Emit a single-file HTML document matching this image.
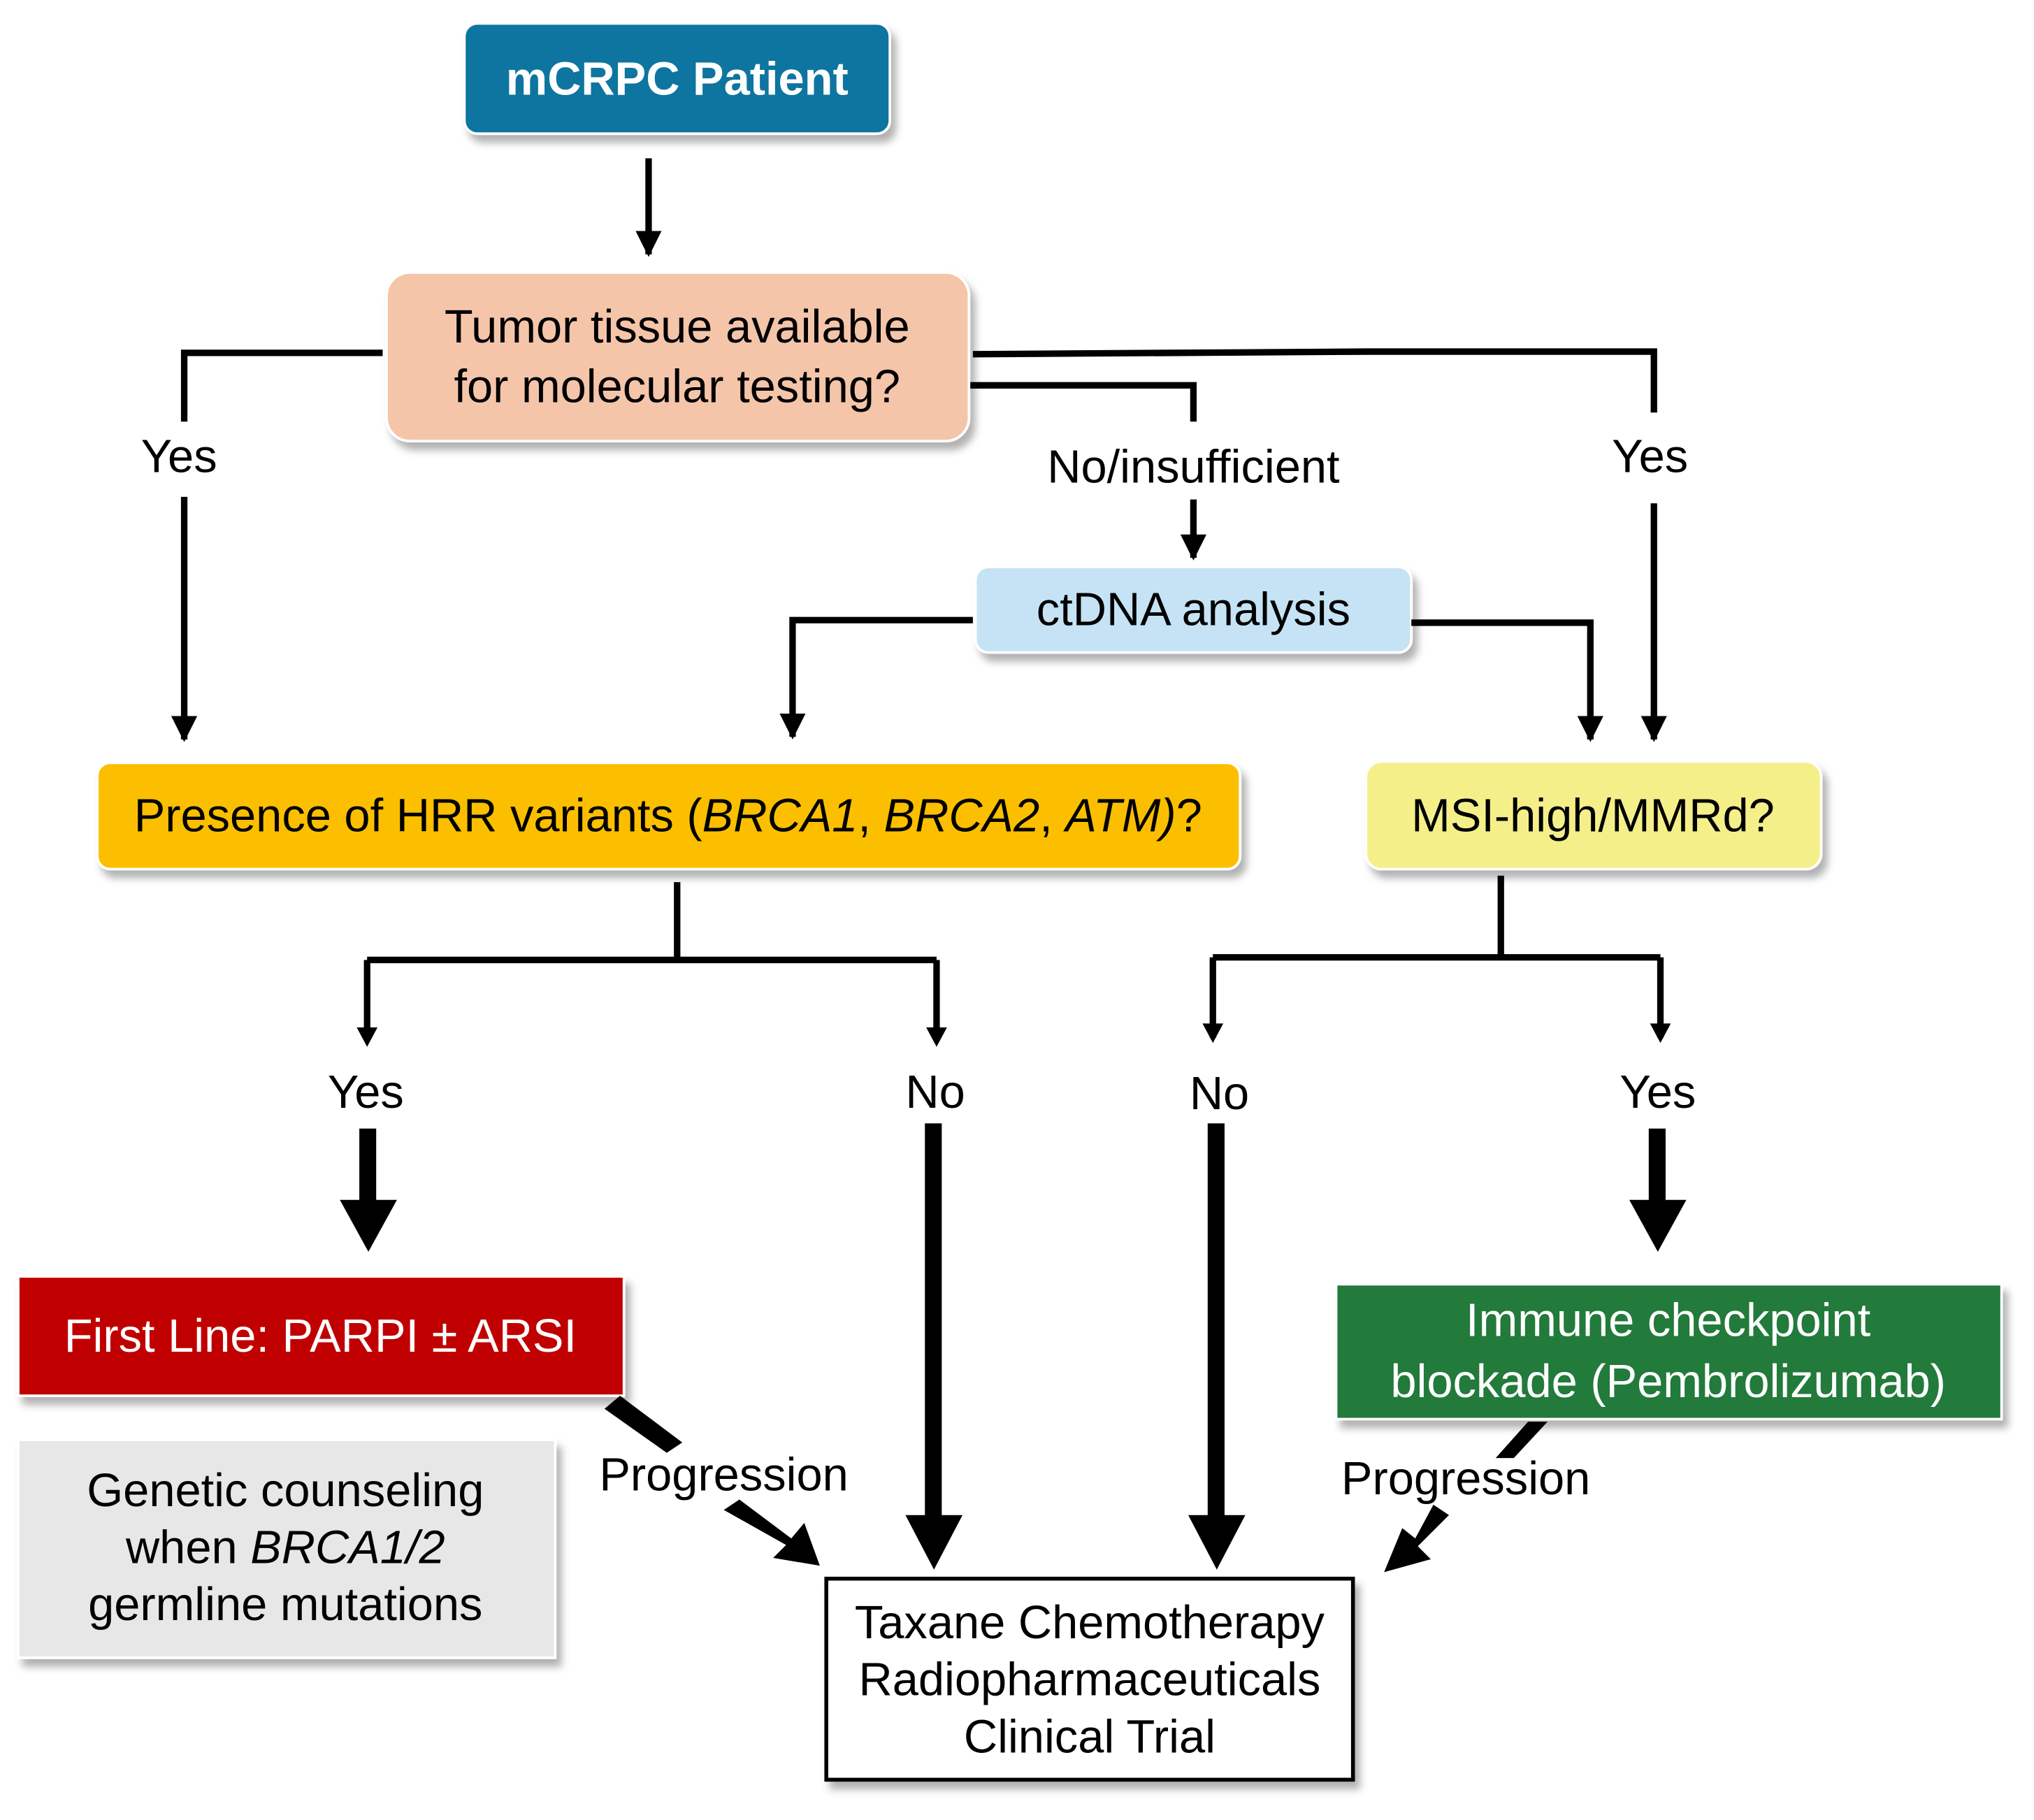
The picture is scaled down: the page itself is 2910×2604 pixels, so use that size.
<!DOCTYPE html>
<html><head><meta charset="utf-8"><style>html,body{margin:0;padding:0;background:#fff}svg{display:block}</style></head><body>
<svg width="2910" height="2604" viewBox="0 0 1568 1403" xmlns="http://www.w3.org/2000/svg" font-family="Liberation Sans, sans-serif">
<defs>
<filter id="sh" x="-10%" y="-10%" width="130%" height="140%"><feDropShadow dx="4" dy="6" stdDeviation="3" flood-color="#000" flood-opacity="0.3"/></filter>
<marker id="a" viewBox="0 0 10 10" refX="9" refY="5" markerWidth="4" markerHeight="4" orient="auto" markerUnits="strokeWidth"><path d="M0,0L10,5L0,10z" fill="#000"/></marker>
</defs>
<g filter="url(#sh)">
<rect x="358" y="18" width="328" height="85" rx="10" fill="#10759f" stroke="#fff" stroke-width="2"/>
<rect x="298" y="210" width="449" height="130" rx="18" fill="#f5c5aa" stroke="#fff" stroke-width="2"/>
<rect x="752" y="437" width="336" height="66" rx="10" fill="#c5e3f5" stroke="#fff" stroke-width="2"/>
<rect x="75" y="588" width="881" height="82" rx="10" fill="#fbbf00" stroke="#fff" stroke-width="2"/>
<rect x="1053" y="587" width="351" height="83" rx="12" fill="#f5ef8a" stroke="#fff" stroke-width="2"/>
<rect x="14" y="984" width="467" height="92" fill="#c00000" stroke="#fff" stroke-width="2"/>
<rect x="14" y="1110" width="414" height="168" fill="#e7e7e7" stroke="#fff" stroke-width="2"/>
<rect x="1030" y="990" width="513" height="104" fill="#217a3a" stroke="#fff" stroke-width="2"/>
<rect x="637" y="1217" width="406" height="155" fill="#fff" stroke="#000" stroke-width="3"/>
</g>
<g stroke="#000" stroke-width="5" fill="none">
<path d="M500,122V196" marker-end="url(#a)"/>
<path d="M295,272H142V325"/><path d="M142,383V570" marker-end="url(#a)"/>
<path d="M750,273L1053,271H1275V318"/><path d="M1275,388V570" marker-end="url(#a)"/>
<path d="M748,297H920V325"/><path d="M920,385V430" marker-end="url(#a)"/>
<path d="M750,478H611V568" marker-end="url(#a)"/>
<path d="M1088,480H1226V570" marker-end="url(#a)"/>
<path d="M522,680V740M283,740H722M283,740V802M722,740V802" />
<path d="M1157,675V738M935,738H1280M935,738V800M1280,738V800"/>
</g>
<g fill="#000">
<path d="M275,792h16l-8,15z"/><path d="M714,792h16l-8,15z"/>
<path d="M927,789h16l-8,15z"/><path d="M1272,789h16l-8,15z"/>
<rect x="277" y="870" width="13" height="58"/><path d="M262,925h44l-22,40z"/>
<rect x="713" y="866" width="13" height="304"/><path d="M698,1168h44l-22,42z"/>
<rect x="931" y="866" width="13" height="304"/><path d="M916,1168h44l-22,42z"/>
<rect x="1271" y="870" width="13" height="58"/><path d="M1256,925h44l-22,40z"/>
<path d="M466,1086l12,-10l48,36l-12,8z"/>
<path d="M558,1164l12,-8l40,30l10,-12l12,33l-36,-6l10,-10z"/>
<path d="M1178,1096h15l-26,28h-14z"/>
<path d="M1105,1160l12,8l-24,24l10,10l-36,10l14,-34l10,8z"/>
</g>
<g text-anchor="middle" font-size="36" fill="#000">
<text x="522" y="73" font-weight="bold" fill="#fff" font-size="36">mCRPC Patient</text>
<text x="522" y="264">Tumor tissue available</text>
<text x="522" y="310">for molecular testing?</text>
<text x="138" y="364">Yes</text>
<text x="1272" y="364">Yes</text>
<text x="920" y="372">No/insufficient</text>
<text x="920" y="482">ctDNA analysis</text>
<text x="515" y="641">Presence of HRR variants (<tspan font-style="italic">BRCA1</tspan>, <tspan font-style="italic">BRCA2</tspan>, <tspan font-style="italic">ATM)</tspan>?</text>
<text x="1228" y="641">MSI-high/MMRd?</text>
<text x="282" y="854">Yes</text>
<text x="721" y="854">No</text>
<text x="940" y="855">No</text>
<text x="1278" y="854">Yes</text>
<text x="247" y="1042" fill="#fff">First Line: PARPI ± ARSI</text>
<text x="220" y="1161">Genetic counseling</text>
<text x="220" y="1205">when <tspan font-style="italic">BRCA1/2</tspan></text>
<text x="220" y="1249">germline mutations</text>
<text x="1286" y="1030" fill="#fff">Immune checkpoint</text>
<text x="1286" y="1077" fill="#fff">blockade (Pembrolizumab)</text>
<text x="558" y="1149">Progression</text>
<text x="1130" y="1152">Progression</text>
<text x="840" y="1263">Taxane Chemotherapy</text>
<text x="840" y="1307">Radiopharmaceuticals</text>
<text x="840" y="1351">Clinical Trial</text>
</g>
</svg>
</body></html>
